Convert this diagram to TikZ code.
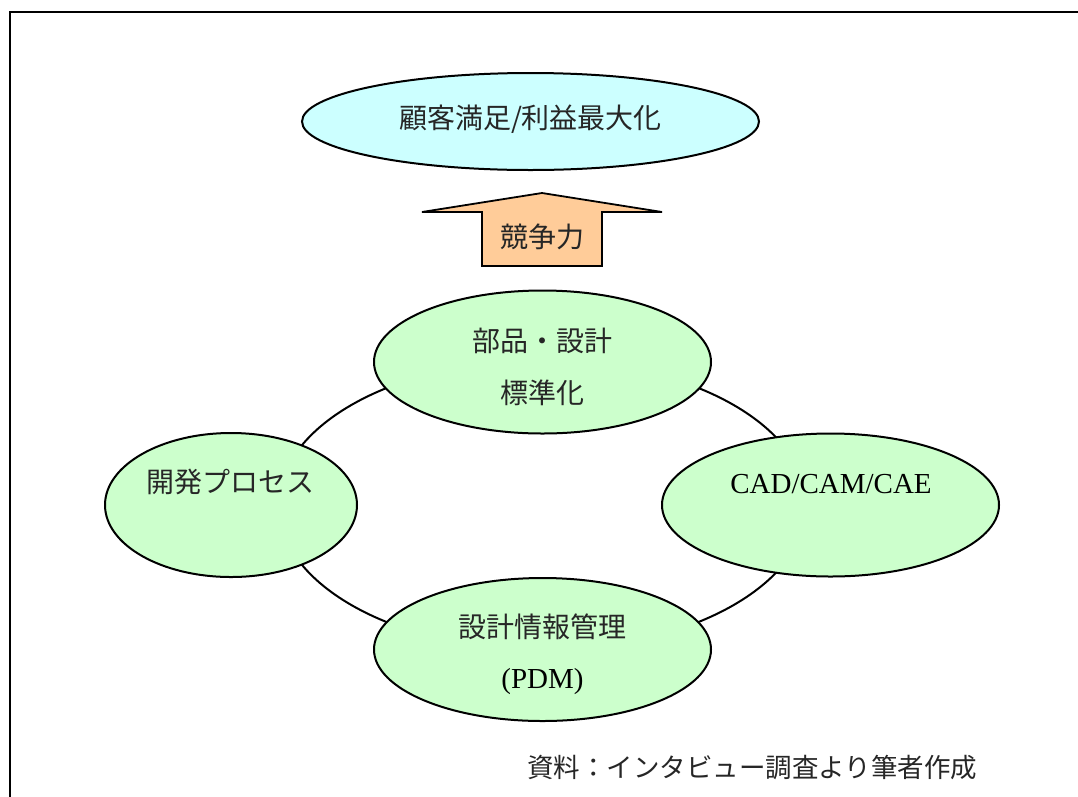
\documentclass[tikz,border=0pt]{standalone}
\usepackage{fontspec}
\setmainfont{Liberation Serif}
\newfontfamily\jp{Noto Sans CJK JP}
\usetikzlibrary{shapes.geometric}
\definecolor{cyanfill}{HTML}{CCFFFF}
\definecolor{greenfill}{HTML}{CCFFCC}
\definecolor{peach}{HTML}{FFCC99}
\tikzset{
  oval/.style={ellipse, draw=black, line width=2pt, inner sep=0pt},
  greenoval/.style={oval, fill=greenfill, minimum width=337pt, minimum height=143pt},
  jtext/.style={font=\jp\fontsize{28}{34}\selectfont, inner sep=0pt, anchor=center, text=black!85},
  ltext/.style={font=\fontsize{29}{34}\selectfont, inner sep=0pt, anchor=center},
  frameline/.style={line width=2.6pt, black},
}
\begin{document}
\begin{tikzpicture}[x=1pt,y=-1pt]
\useasboundingbox (0,0) rectangle (1078,796);
% frame (top and left edges only visible)
\coordinate (fc) at (10,12);
\coordinate (ftr) at (1080,12);
\coordinate (fbl) at (10,798);
\draw[frameline] (ftr) -- (fc) -- (fbl);

% goal ellipse
\node[oval, fill=cyanfill, minimum width=457pt, minimum height=97pt] (goal) at (530.5,121.5) {};
\node[jtext] (goaltext) at (530.5,119) {顧客満足/利益最大化};

% arrow
\draw[line width=1.8pt, fill=peach, line join=miter]
  (482,266) -- (482,212) -- (422,212) -- (542,193) -- (662,212) -- (602,212) -- (602,266) -- cycle;
\node[jtext] (arrowtext) at (542,237) {競争力};

% ring
\node[oval, minimum width=528pt, minimum height=290pt] (ring) at (542.5,505) {};

% four ovals
\node[greenoval] (std) at (542.5,362) {};
\node[greenoval] (pdm) at (542.5,649.5) {};
\node[greenoval, minimum width=252pt, minimum height=144pt] (dev) at (231,505) {};
\node[greenoval] (cad) at (830.5,505) {};

\node[jtext] (stdtext1) at (542.5,341) {部品・設計};
\node[jtext] (stdtext2) at (542.5,393) {標準化};
\node[jtext] (pdmtext1) at (542.5,627) {設計情報管理};
\node[ltext] (pdmtext2) at (542.5,682) {(PDM)};
\node[jtext] (devtext) at (230,482) {開発プロセス};
\node[ltext] (cadtext) at (831,484) {CAD/CAM/CAE};

% caption
\node[font=\jp\fontsize{26.5}{32}\selectfont, inner sep=0pt, anchor=west, text=black!85] (caption) at (527,767) {資料：インタビュー調査より筆者作成};
\end{tikzpicture}
\end{document}
